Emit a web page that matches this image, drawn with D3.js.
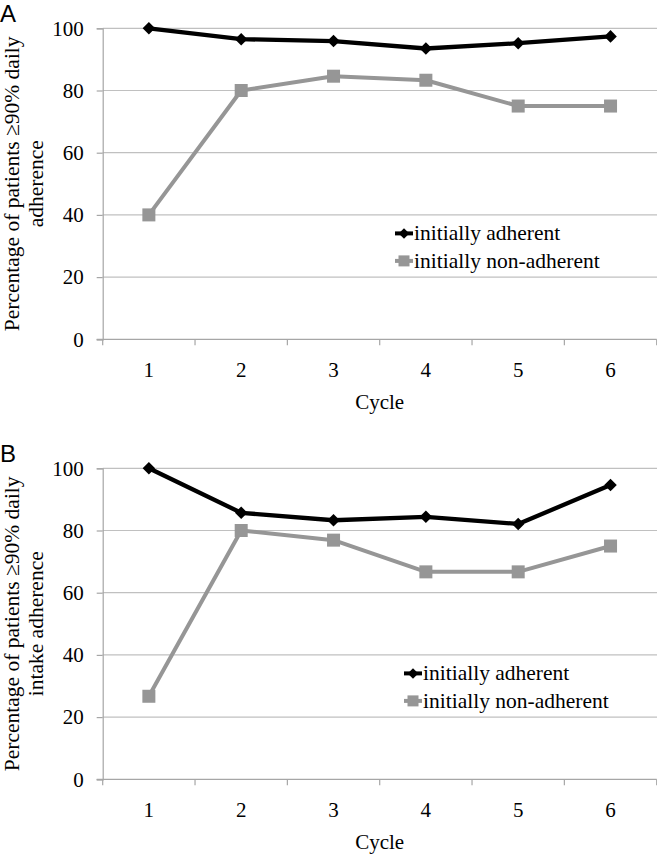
<!DOCTYPE html>
<html>
<head>
<meta charset="utf-8">
<script src="https://cdn.jsdelivr.net/npm/d3@7"></script>
<style>
  html, body { margin: 0; padding: 0; background: #fff; }
  svg { display: block; }
  svg text { font-family: "Liberation Serif", "Times New Roman", serif !important; fill: #000; }
  svg text.panel-label { font-family: "Liberation Sans", Arial, sans-serif !important; }
</style>
</head>
<body>
<div id="chart"></div>
<script>
// ---- data ----
const cycles = ["1", "2", "3", "4", "5", "6"];
const yTicks = [0, 20, 40, 60, 80, 100];
const seriesNames = ["initially adherent", "initially non-adherent"];
const adherentA = [100, 96.5, 95.9, 93.5, 95.2, 97.4];
const nonAdherentA = [40, 80, 84.6, 83.3, 75, 75];
const adherentB = [100, 85.7, 83.3, 84.4, 82.1, 94.6];
const nonAdherentB = [26.7, 80, 76.9, 66.7, 66.7, 75];
const panelLabels = ["A", "B"];
const yTitlesA = ["Percentage of patients \u226590% daily", "adherence"];
const yTitlesB = ["Percentage of patients \u226590% daily", "intake adherence"];
const xTitle = "Cycle";

// ---- layout ----
const W = 657, H = 854;
const svg = d3.select("#chart").append("svg").attr("width", W).attr("height", H);

const panels = [
  { label: panelLabels[0], top: 28.3, adh: adherentA, non: nonAdherentA, titles: yTitlesA, legendX: 395 },
  { label: panelLabels[1], top: 468.3, adh: adherentB, non: nonAdherentB, titles: yTitlesB, legendX: 404 }
];

const plotLeft = 102.7, plotRight = 656.7, plotH = 311;
const gridColor = "#c0c0c0", axisColor = "#a6a6a6";
const blackC = "#000", grayC = "#969696";
const fs = 21;

const x = d3.scaleBand().domain(cycles).range([plotLeft, plotRight]).padding(0);

const diamond = d3.symbol().type(d3.symbolDiamond2);

panels.forEach((p, pi) => {
  const g = svg.append("g");
  const y = d3.scaleLinear().domain([0, 100]).range([p.top + plotH, p.top]);

  // panel label
  g.append("text").attr("class", "panel-label")
    .attr("x", 0).attr("y", p.top - 6.5)
    .style("font-size", "24px").text(p.label);

  // gridlines
  g.append("g").selectAll("line").data(yTicks.filter(d => d > 0)).join("line")
    .attr("x1", plotLeft).attr("x2", W)
    .attr("y1", d => y(d)).attr("y2", d => y(d))
    .attr("stroke", gridColor).attr("stroke-width", 1.2);

  // y axis
  const yAx = g.append("g").attr("transform", `translate(${plotLeft},0)`)
    .call(d3.axisLeft(y).tickValues(yTicks).tickSize(6).tickPadding(13).tickFormat(d3.format("d")));
  yAx.attr("font-family", null).attr("font-size", null);
  yAx.select(".domain").attr("stroke", axisColor).attr("stroke-width", 1.2);
  yAx.selectAll(".tick line").attr("stroke", axisColor).attr("stroke-width", 1.2);
  yAx.selectAll(".tick text").style("font-size", fs + "px");

  // x axis (ticks at category boundaries)
  const xAx = g.append("g").attr("transform", `translate(0,${p.top + plotH})`);
  xAx.append("line").attr("x1", plotLeft - 6).attr("x2", plotRight)
    .attr("stroke", axisColor).attr("stroke-width", 1.2);
  const bounds = cycles.map(c => x(c)).concat([x(cycles[cycles.length - 1]) + x.bandwidth()]);
  xAx.selectAll("line.tk").data(bounds).join("line").attr("class", "tk")
    .attr("x1", d => d).attr("x2", d => d).attr("y1", 0).attr("y2", 6)
    .attr("stroke", axisColor).attr("stroke-width", 1.2);
  xAx.selectAll("text.lbl").data(cycles).join("text").attr("class", "lbl")
    .attr("x", d => x(d) + x.bandwidth() / 2).attr("y", 38)
    .attr("text-anchor", "middle").style("font-size", fs + "px").text(d => d);
  xAx.append("text")
    .attr("x", (plotLeft + plotRight) / 2).attr("y", 70)
    .attr("text-anchor", "middle").style("font-size", fs + "px").text(xTitle);

  // y title
  const yc = p.top + plotH / 2;
  const yt = g.append("text").attr("transform", `translate(0,${yc}) rotate(-90)`)
    .attr("text-anchor", "middle").style("font-size", "21.5px");
  yt.append("tspan").attr("x", 0).attr("y", 19).text(p.titles[0]);
  yt.append("tspan").attr("x", 0).attr("y", 42.5).text(p.titles[1]);

  // series
  const line = d3.line().x((d, i) => x(cycles[i]) + x.bandwidth() / 2).y(d => y(d));
  const series = [
    { vals: p.non, color: grayC, shape: "square", width: 4 },
    { vals: p.adh, color: blackC, shape: "diamond", width: 4.3 }
  ];
  series.forEach(s => {
    g.append("path").datum(s.vals).attr("d", line)
      .attr("fill", "none").attr("stroke", s.color).attr("stroke-width", s.width)
      .attr("stroke-linejoin", "round");
    const mk = g.append("g").selectAll("g").data(s.vals).join("g")
      .attr("transform", (d, i) => `translate(${x(cycles[i]) + x.bandwidth() / 2},${y(d)})`);
    if (s.shape === "square") {
      mk.append("rect").attr("x", -6.5).attr("y", -6.5).attr("width", 13).attr("height", 13).attr("fill", s.color);
    } else {
      mk.append("path").attr("d", diamond.size(100)()).attr("fill", s.color);
    }
  });

  // legend
  const lg = g.append("g");
  const legendItems = [
    { name: seriesNames[0], color: blackC, shape: "diamond" },
    { name: seriesNames[1], color: grayC, shape: "square" }
  ];
  legendItems.forEach((it, i) => {
    const ly = y(40) + 18.5 + i * 27.5;
    const r = lg.append("g").attr("transform", `translate(${p.legendX},${ly})`);
    r.append("line").attr("x1", 0).attr("x2", 18).attr("y1", 0).attr("y2", 0)
      .attr("stroke", it.color).attr("stroke-width", 4);
    if (it.shape === "square") {
      r.append("rect").attr("x", 3.5).attr("y", -5.5).attr("width", 11).attr("height", 11).attr("fill", it.color);
    } else {
      r.append("path").attr("transform", "translate(9,0)").attr("d", diamond.size(70)()).attr("fill", it.color);
    }
    r.append("text").attr("x", 19).attr("y", 7).style("font-size", "21.5px").text(it.name);
  });
});
</script>
</body>
</html>
